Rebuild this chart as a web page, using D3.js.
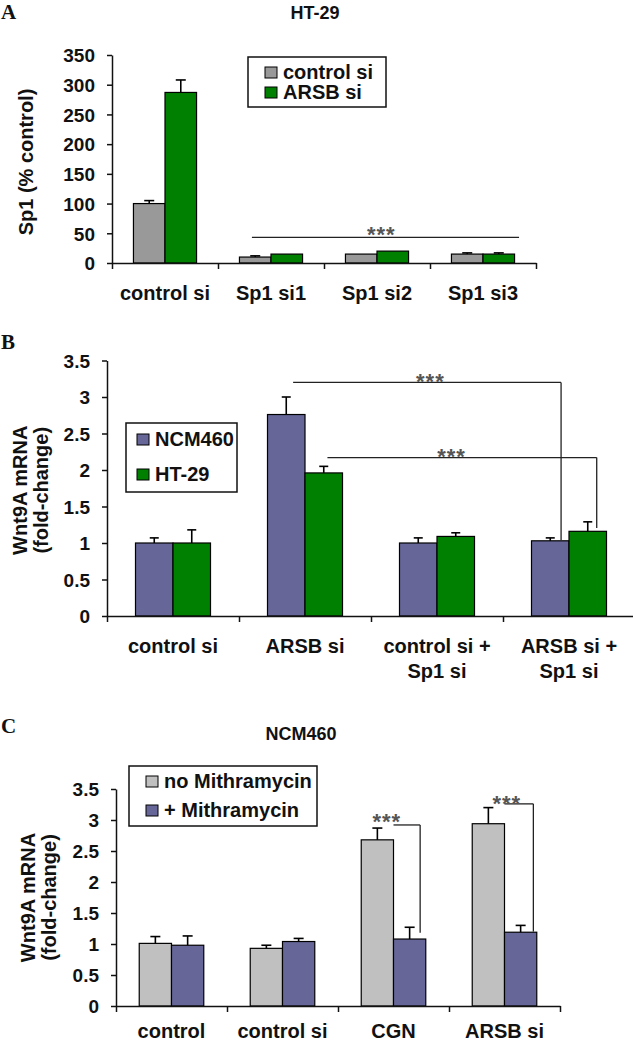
<!DOCTYPE html>
<html><head><meta charset="utf-8">
<script src="https://cdn.jsdelivr.net/npm/d3@7"></script>
<style>
body{margin:0;background:#fff}
svg{display:block}
text{font-family:"Liberation Sans",Arial,sans-serif;font-weight:bold;fill:#111}
</style>
</head><body>
<svg id="chart" width="633" height="1043"></svg>
<script>
// ---------- Panel A data (HT-29) ----------
const aCategories = [["control si"], ["Sp1 si1"], ["Sp1 si2"], ["Sp1 si3"]];
const aSeriesNames = ["control si", "ARSB si"];
const aControlSi = [100, 10, 15, 15];
const aControlSiErr = [5, 2, 0, 2];
const aArsbSi = [287, 15, 20, 15];
const aArsbSiErr = [21, 0, 0, 2];
const aYTicks = [0, 50, 100, 150, 200, 250, 300, 350];
const aYTickLabels = ["0", "50", "100", "150", "200", "250", "300", "350"];

// ---------- Panel B data ----------
const bCategories = [["control si"], ["ARSB si"], ["control si +", "Sp1 si"], ["ARSB si +", "Sp1 si"]];
const bSeriesNames = ["NCM460", "HT-29"];
const bNcm460 = [1.00, 2.76, 1.00, 1.03];
const bNcm460Err = [0.07, 0.24, 0.07, 0.04];
const bHt29 = [1.00, 1.96, 1.09, 1.16];
const bHt29Err = [0.18, 0.09, 0.05, 0.13];
const bYTicks = [0, 0.5, 1, 1.5, 2, 2.5, 3, 3.5];
const bYTickLabels = ["0", "0.5", "1", "1.5", "2", "2.5", "3", "3.5"];

// ---------- Panel C data (NCM460) ----------
const cCategories = [["control"], ["control si"], ["CGN"], ["ARSB si"]];
const cSeriesNames = ["no Mithramycin", "+ Mithramycin"];
const cNoMith = [1.01, 0.93, 2.68, 2.94];
const cNoMithErr = [0.11, 0.05, 0.19, 0.26];
const cMith = [0.98, 1.04, 1.08, 1.19];
const cMithErr = [0.15, 0.05, 0.19, 0.11];
const cYTicks = [0, 0.5, 1, 1.5, 2, 2.5, 3, 3.5];
const cYTickLabels = ["0", "0.5", "1", "1.5", "2", "2.5", "3", "3.5"];

// significance annotations (category-index position, data value)
const aSig = [{from: 1.32, to: 3.84, value: 43, drop: null, starsAt: 2.54, starsValue: 55}];
const bSig = [
  {from: 1.41, to: 3.44, value: 3.20, drop: 1.04, starsAt: 2.45, starsValue: 3.28},
  {from: 1.67, to: 3.71, value: 2.17, drop: 1.205, starsAt: 2.61, starsValue: 2.25}
];
const cSig = [
  {from: 2.50, to: 2.74, value: 2.92, drop: 1.18, starsAt: 2.44, starsValue: 3.05},
  {from: 3.50, to: 3.76, value: 3.26, drop: 1.20, starsAt: 3.52, starsValue: 3.34}
];

const GRAY_A = "#999999", GREEN = "#008000", PURPLE = "#666699", GRAY_C = "#c0c0c0";
const FS_TICK = 19, FS = 20;

const svg = d3.select("#chart");

function panel(cfg) {
  const g = svg.append("g");
  const n = cfg.categories.length;
  const x = d3.scaleBand().domain(d3.range(n)).range(cfg.xRange);
  const xi = d3.scaleLinear().domain([0, n]).range(cfg.xRange);
  const sub = d3.scaleBand().domain(cfg.series.map(s => s.name))
    .range([0, x.bandwidth()]).paddingInner(0).paddingOuter(cfg.outerPad);
  const y = d3.scaleLinear().domain(cfg.yDomain).range(cfg.yRange);

  // bars
  cfg.series.forEach(s => {
    g.append("g").selectAll("rect").data(s.values).join("rect")
      .attr("x", (d, i) => x(i) + sub(s.name))
      .attr("y", d => y(d))
      .attr("width", sub.bandwidth())
      .attr("height", d => y(0) - y(d))
      .attr("fill", s.color).attr("stroke", "#000").attr("stroke-width", 1.2);
  });
  // error bars
  cfg.series.forEach(s => {
    const eg = g.append("g").attr("stroke", "#000").attr("stroke-width", 1.6);
    s.values.forEach((v, i) => {
      const e = s.err[i];
      if (!e) return;
      const cx = x(i) + sub(s.name) + sub.bandwidth() / 2;
      eg.append("line").attr("x1", cx).attr("x2", cx).attr("y1", y(v)).attr("y2", y(v + e));
      eg.append("line").attr("x1", cx - cfg.cap / 2).attr("x2", cx + cfg.cap / 2)
        .attr("y1", y(v + e)).attr("y2", y(v + e));
    });
  });

  // y axis
  const ya = d3.axisLeft(y).tickValues(cfg.yTicks).tickFormat((d, i) => cfg.yTickLabels[i])
    .tickSize(5).tickSizeOuter(0).tickPadding(12);
  const yg = g.append("g").attr("transform", `translate(${cfg.xRange[0]},0)`).call(ya);
  yg.attr("font-family", null).attr("font-size", null);
  yg.selectAll("text").attr("font-size", FS_TICK).attr("fill", "#111").attr("dy", "0.36em");
  yg.selectAll("path,line").attr("stroke", "#111").attr("stroke-width", 1.5);

  // x axis (ticks at category boundaries)
  const xa = d3.axisBottom(xi).tickValues(d3.range(n + 1)).tickFormat("").tickSize(6).tickSizeOuter(0);
  const xg = g.append("g").attr("transform", `translate(0,${y(0)})`).call(xa);
  xg.selectAll("path,line").attr("stroke", "#111").attr("stroke-width", 1.5);

  // category labels
  cfg.categories.forEach((lines, i) => {
    lines.forEach((t, k) => {
      g.append("text").attr("x", x(i) + x.bandwidth() / 2)
        .attr("y", y(0) + cfg.labelOffset + k * 25)
        .attr("text-anchor", "middle").attr("font-size", FS).text(t);
    });
  });

  // y title
  cfg.yTitle.forEach((t, k) => {
    g.append("text")
      .attr("transform", `translate(${cfg.yTitleX[k]},${(cfg.yRange[0] + cfg.yRange[1]) / 2 + cfg.yTitleDy}) rotate(-90)`)
      .attr("text-anchor", "middle").attr("font-size", 20).text(t);
  });

  // significance
  cfg.sig.forEach(s => {
    const sg = g.append("g").attr("stroke", "#222").attr("stroke-width", 1.3).attr("fill", "none");
    sg.append("line").attr("x1", xi(s.from)).attr("x2", xi(s.to)).attr("y1", y(s.value)).attr("y2", y(s.value));
    if (s.drop != null) {
      sg.append("line").attr("x1", xi(s.to)).attr("x2", xi(s.to)).attr("y1", y(s.value)).attr("y2", y(s.drop));
    }
    g.append("text").attr("x", xi(s.starsAt)).attr("y", y(s.starsValue) + 12)
      .attr("text-anchor", "middle").attr("font-size", 22).attr("font-weight", "normal")
      .attr("letter-spacing", 1).style("fill", "#555").text("***");
  });

  // legend
  const L = cfg.legend;
  g.append("rect").attr("x", L.x).attr("y", L.y).attr("width", L.w).attr("height", L.h)
    .attr("fill", "#fff").attr("stroke", "#111").attr("stroke-width", 1.5);
  cfg.series.forEach((s, k) => {
    const ry = L.y + L.first + k * L.step;
    g.append("rect").attr("x", L.x + L.sx).attr("y", ry - 12).attr("width", 12).attr("height", 11)
      .attr("fill", s.color).attr("stroke", "#000").attr("stroke-width", 1);
    g.append("text").attr("x", L.x + L.sx + 18).attr("y", ry).attr("font-size", FS).text(s.name);
  });

  // title & panel letter
  if (cfg.title) {
    g.append("text").attr("x", cfg.title.x).attr("y", cfg.title.y).attr("text-anchor", "middle")
      .attr("font-size", 18).text(cfg.title.text);
  }
  g.append("text").attr("x", 1).attr("y", cfg.letter.y)
    .style("font-family", '"Liberation Serif","Times New Roman",serif')
    .attr("font-size", 21).text(cfg.letter.text);
}

panel({
  categories: aCategories,
  series: [
    {name: aSeriesNames[0], values: aControlSi, err: aControlSiErr, color: GRAY_A},
    {name: aSeriesNames[1], values: aArsbSi, err: aArsbSiErr, color: GREEN}
  ],
  xRange: [112, 536], yRange: [263, 55], yDomain: [0, 350], outerPad: 0.68, cap: 10,
  yTicks: aYTicks, yTickLabels: aYTickLabels, labelOffset: 37,
  yTitle: ["Sp1 (% control)"], yTitleX: [33], yTitleDy: 3,
  sig: aSig,
  legend: {x: 248, y: 57, w: 138, h: 50, sx: 17, first: 22, step: 20},
  title: {text: "HT-29", x: 315, y: 19},
  letter: {text: "A", y: 19}
});

panel({
  categories: bCategories,
  series: [
    {name: bSeriesNames[0], values: bNcm460, err: bNcm460Err, color: PURPLE},
    {name: bSeriesNames[1], values: bHt29, err: bHt29Err, color: GREEN}
  ],
  xRange: [107, 635], yRange: [616, 360.5], yDomain: [0, 3.5], outerPad: 0.76, cap: 9,
  yTicks: bYTicks, yTickLabels: bYTickLabels, labelOffset: 37,
  yTitle: ["Wnt9A mRNA", "(fold-change)"], yTitleX: [27, 48], yTitleDy: 2,
  sig: bSig,
  legend: {x: 126, y: 423, w: 111, h: 69, sx: 11, first: 23, step: 35},
  title: null,
  letter: {text: "B", y: 349}
});

panel({
  categories: cCategories,
  series: [
    {name: cSeriesNames[0], values: cNoMith, err: cNoMithErr, color: GRAY_C},
    {name: cSeriesNames[1], values: cMith, err: cMithErr, color: PURPLE}
  ],
  xRange: [116, 560], yRange: [1006, 789], yDomain: [0, 3.5], outerPad: 0.72, cap: 10,
  yTicks: cYTicks, yTickLabels: cYTickLabels, labelOffset: 32,
  yTitle: ["Wnt9A mRNA", "(fold-change)"], yTitleX: [35, 56], yTitleDy: 0,
  sig: cSig,
  legend: {x: 129, y: 766, w: 188, h: 60, sx: 17, first: 22, step: 29},
  title: {text: "NCM460", x: 301, y: 740},
  letter: {text: "C", y: 733}
});
</script>
</body></html>
